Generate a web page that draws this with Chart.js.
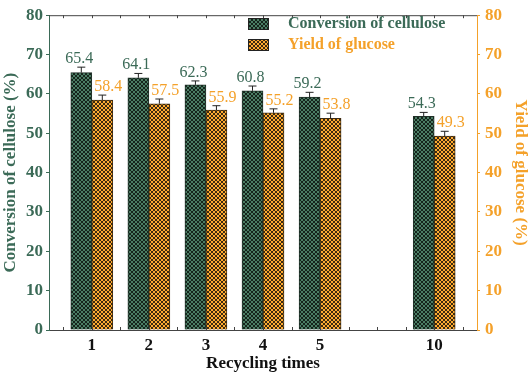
<!DOCTYPE html>
<html>
<head>
<meta charset="utf-8">
<script src="https://cdn.jsdelivr.net/npm/chart.js@4"></script>
<style>
  html, body { margin: 0; padding: 0; background: #fff; }
  #wrap { width: 532px; height: 380px; }
</style>
</head>
<body>
<div id="wrap"><canvas id="chart" width="532" height="380"></canvas></div>
<script>
// recycling runs (the empty slot is the break between 5 and 10)
const cycles = ["1", "2", "3", "4", "5", "", "10"];
const conversion = [65.4, 64.1, 62.3, 60.8, 59.2, null, 54.3];
const conversionErr = [1.4, 1.1, 1.0, 1.2, 1.2, null, 1.0];
const glucoseYield = [58.4, 57.5, 55.9, 55.2, 53.8, null, 49.3];
const glucoseErr = [1.3, 1.2, 1.1, 1.0, 1.3, null, 1.2];
const yTicks = [0, 10, 20, 30, 40, 50, 60, 70, 80];

const green = "#3b6a57";
const orange = "#f4a12a";
const serif = "'Liberation Serif', 'DejaVu Serif', serif";

// crosshatch fill like the original bars
const makeHatch = (base, line) => {
  const c = document.createElement("canvas");
  c.width = 4;
  c.height = 4;
  const g = c.getContext("2d");
  g.fillStyle = base;
  g.fillRect(0, 0, 4, 4);
  g.strokeStyle = line;
  g.lineWidth = 1;
  g.beginPath();
  g.moveTo(0, 0); g.lineTo(4, 4);
  g.moveTo(4, 0); g.lineTo(0, 4);
  g.stroke();
  return g.createPattern(c, "repeat");
};

const greenHatch = makeHatch("#4b7d64", "#15241c");
const orangeHatch = makeHatch("#ffab30", "#3d2a10");

const toPoints = (vals) => cycles.map((c, i) => ({ x: i, y: vals[i] })).filter(p => p.y !== null);

// error bars, value labels, inward x ticks, top frame and legend
const extras = {
  id: "extras",
  afterDatasetsDraw(chart) {
    const ctx = chart.ctx;
    const area = chart.chartArea;
    const errs = [conversionErr, glucoseErr];
    const vals = [conversion, glucoseYield];
    const cols = [green, orange];
    chart.data.datasets.forEach((ds, d) => {
      const meta = chart.getDatasetMeta(d);
      const ys = chart.scales[ds.yAxisID];
      meta.data.forEach((bar, k) => {
        const idx = ds.data[k].x;
        const v = vals[d][idx];
        const top = ys.getPixelForValue(v + errs[d][idx]);
        ctx.save();
        ctx.strokeStyle = "#222";
        ctx.lineWidth = 1;
        ctx.beginPath();
        ctx.moveTo(bar.x, bar.y);
        ctx.lineTo(bar.x, top);
        ctx.moveTo(bar.x - 4, top);
        ctx.lineTo(bar.x + 4, top);
        ctx.stroke();
        ctx.fillStyle = cols[d];
        ctx.font = "16px " + serif;
        ctx.textBaseline = "alphabetic";
        // glucose labels sit right of the conversion bar, as in the figure
        ctx.textAlign = "center";
        ctx.fillText(v.toFixed(1), d === 0 ? bar.x - 2 : bar.x + 6, top - 4);
        ctx.restore();
      });
    });

    const xs = chart.scales.x;
    ctx.save();
    ctx.strokeStyle = "#444";
    ctx.lineWidth = 1;
    ctx.beginPath();
    ctx.moveTo(area.left, area.top + 0.5);
    ctx.lineTo(area.right, area.top + 0.5);
    for (let t = -0.5; t <= 6.5; t += 0.5) {
      const px = Math.round(xs.getPixelForValue(t)) + 0.5;
      ctx.moveTo(px, area.bottom);
      ctx.lineTo(px, area.bottom - 3);
      ctx.moveTo(px, area.top);
      ctx.lineTo(px, area.top + 3);
    }
    ctx.stroke();
    ctx.restore();

    // legend
    const lx = 248, ly = [23, 44];
    ctx.save();
    ctx.font = "bold 16px " + serif;
    ctx.textBaseline = "middle";
    chart.data.datasets.forEach((ds, d) => {
      ctx.fillStyle = ds.backgroundColor;
      ctx.fillRect(lx, ly[d] - 5, 20, 11);
      ctx.strokeStyle = "#222";
      ctx.strokeRect(lx + 0.5, ly[d] - 4.5, 20, 11);
      ctx.fillStyle = cols[d];
      ctx.fillText(ds.label, lx + 40, ly[d] + 1);
    });
    ctx.restore();
  }
};

new Chart(document.getElementById("chart"), {
  type: "bar",
  plugins: [extras],
  data: {
    datasets: [
      {
        label: "Conversion of cellulose",
        data: toPoints(conversion),
        backgroundColor: greenHatch,
        borderColor: "#1f2f27",
        borderWidth: 1,
        barThickness: 21,
        yAxisID: "y",
      },
      {
        label: "Yield of glucose",
        data: toPoints(glucoseYield),
        backgroundColor: orangeHatch,
        borderColor: "#3d2a10",
        borderWidth: 1,
        barThickness: 21,
        yAxisID: "y2",
      },
    ],
  },
  options: {
    responsive: false,
    animation: false,
    layout: { padding: { top: 11, left: 0, right: 0, bottom: 0 } },
    plugins: {
      legend: { display: false },
      tooltip: { enabled: false },
    },
    scales: {
      x: {
        type: "linear",
        min: -0.75,
        max: 6.75,
        offset: false,
        grid: { display: true, drawOnChartArea: false, drawTicks: false },
        border: { color: "#444", width: 1 },
        afterFit: (s) => { s.height = 50; },
        afterBuildTicks: (s) => {
          s.ticks = cycles.map((c, i) => ({ value: i }));
        },
        ticks: {
          autoSkip: false,
          maxRotation: 0,
          padding: 5,
          color: "#111",
          font: { family: serif, size: 17, weight: "bold" },
          callback: (v) => cycles[v],
        },
        title: {
          display: true,
          text: "Recycling times",
          color: "#111",
          font: { family: serif, size: 17, weight: "bold" },
          padding: { top: 0, bottom: 6 },
        },
      },
      y: {
        position: "left",
        min: 0,
        max: 80,
        afterFit: (s) => { s.width = 49; },
        afterBuildTicks: (s) => {
          s.ticks = [];
          for (let v = 0; v <= 80; v += 5) s.ticks.push({ value: v });
        },
        grid: { drawOnChartArea: false, tickLength: 3, color: green },
        border: { color: green, width: 1 },
        ticks: {
          padding: 3,
          color: green,
          font: { family: serif, size: 17, weight: "bold" },
          callback: (v) => (yTicks.includes(v) ? v : ""),
        },
        title: {
          display: true,
          text: "Conversion of cellulose (%)",
          color: green,
          font: { family: serif, size: 17, weight: "bold" },
          padding: { top: 0, bottom: 0 },
        },
      },
      y2: {
        position: "right",
        min: 0,
        max: 80,
        afterFit: (s) => { s.width = 55; },
        afterBuildTicks: (s) => {
          s.ticks = [];
          for (let v = 0; v <= 80; v += 5) s.ticks.push({ value: v });
        },
        grid: { drawOnChartArea: false, tickLength: 3, color: orange },
        border: { color: orange, width: 1 },
        ticks: {
          padding: 5,
          color: orange,
          font: { family: serif, size: 17, weight: "bold" },
          callback: (v) => (yTicks.includes(v) ? v : ""),
        },
        title: {
          display: true,
          text: "Yield of glucose (%)",
          color: orange,
          font: { family: serif, size: 17, weight: "bold" },
          padding: { top: 1, bottom: 0 },
        },
      },
    },
  },
});
</script>
</body>
</html>
